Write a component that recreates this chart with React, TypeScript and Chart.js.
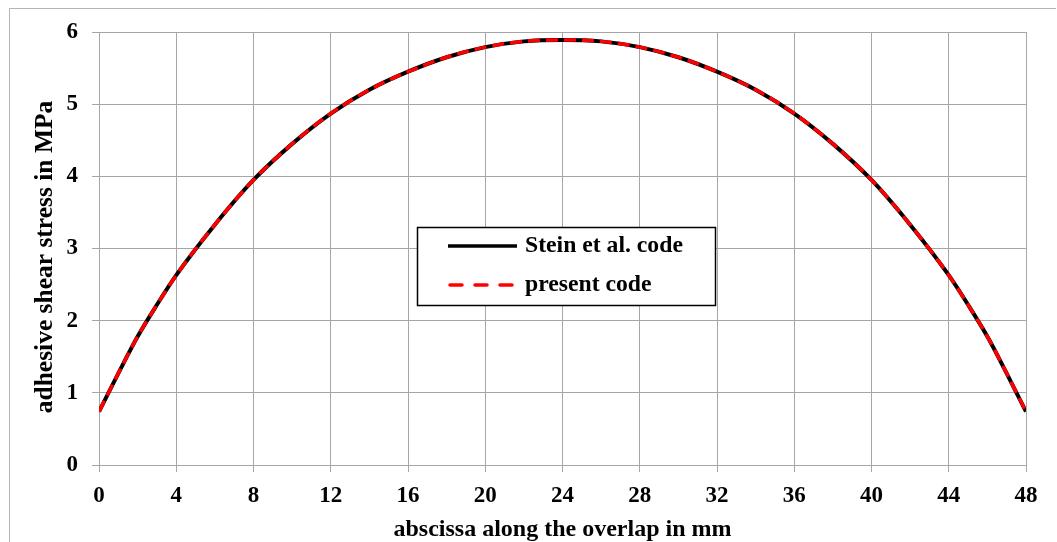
import React, { useEffect, useRef } from "react";
import { Chart, registerables } from "chart.js";

Chart.register(...registerables);

const xValues = [0, 1, 2, 3, 4, 6, 8, 10, 12, 14, 16, 18, 20, 22, 24, 26, 28, 30, 32, 34, 36, 38, 40, 42, 44, 45, 46, 47, 48];
const steinValues = [0.74, 1.27, 1.78, 2.22, 2.63, 3.33, 3.95, 4.45, 4.87, 5.2, 5.45, 5.65, 5.79, 5.87, 5.89, 5.87, 5.79, 5.65, 5.45, 5.2, 4.87, 4.45, 3.95, 3.33, 2.63, 2.22, 1.78, 1.27, 0.74];
const presentValues = [0.74, 1.27, 1.78, 2.22, 2.63, 3.33, 3.95, 4.45, 4.87, 5.2, 5.45, 5.65, 5.79, 5.87, 5.89, 5.87, 5.79, 5.65, 5.45, 5.2, 4.87, 4.45, 3.95, 3.33, 2.63, 2.22, 1.78, 1.27, 0.74];
const seriesLabels = ["Stein et al. code", "present code"];
const xTitle = "abscissa along the overlap in mm";
const yTitle = "adhesive shear stress in MPa";

const FONT = "'Liberation Serif', 'Times New Roman', serif";
const GRID = "#a6a6a6";

const framePlugin = {
  id: "frame",
  beforeDraw(chart: any) {
    const ctx = chart.ctx;
    ctx.save();
    ctx.fillStyle = "#ffffff";
    ctx.fillRect(0, 0, chart.width, chart.height);
    ctx.strokeStyle = "#b4b4b4";
    ctx.lineWidth = 1;
    ctx.beginPath();
    ctx.moveTo(9.5, chart.height);
    ctx.lineTo(9.5, 8.5);
    ctx.lineTo(1056, 8.5);
    ctx.stroke();
    ctx.restore();
  },
};

const yTitlePlugin = {
  id: "yTitle",
  afterDraw(chart: any) {
    const ctx = chart.ctx;
    ctx.save();
    ctx.translate(45, 257);
    ctx.rotate(-Math.PI / 2);
    ctx.fillStyle = "#000000";
    ctx.font = `bold 25.5px ${FONT}`;
    ctx.textAlign = "center";
    ctx.textBaseline = "middle";
    ctx.fillText(yTitle, 0, 0);
    ctx.restore();
  },
};

const legendPlugin = {
  id: "boxLegend",
  afterDraw(chart: any) {
    const ctx = chart.ctx;
    const ds = chart.data.datasets;
    const bx = 417, by = 227, bw = 298, bh = 78;
    ctx.save();
    ctx.fillStyle = "#ffffff";
    ctx.fillRect(bx, by, bw, bh);
    ctx.strokeStyle = "#000000";
    ctx.lineWidth = 1.5;
    ctx.strokeRect(bx + 0.5, by + 0.5, bw, bh);
    const rows = [246, 285];
    ds.forEach((d: any, i: number) => {
      const y = rows[i];
      ctx.beginPath();
      ctx.strokeStyle = d.borderColor;
      ctx.lineWidth = 3.5;
      ctx.lineCap = i === 0 ? "butt" : "round";
      ctx.setLineDash(i === 0 ? [] : [12, 13]);
      ctx.moveTo(i === 0 ? 448 : 450, y);
      ctx.lineTo(517, y);
      ctx.stroke();
      ctx.setLineDash([]);
      ctx.fillStyle = "#000000";
      ctx.font = `bold 23.7px ${FONT}`;
      ctx.textBaseline = "middle";
      ctx.textAlign = "left";
      ctx.fillText(d.label, 525, y);
    });
    ctx.restore();
  },
};

export default function App() {
  const ref = useRef<HTMLCanvasElement | null>(null);

  useEffect(() => {
    if (!ref.current) return;
    const chart = new Chart(ref.current, {
      type: "line",
      data: {
        datasets: [
          {
            label: seriesLabels[0],
            data: xValues.map((x, i) => ({ x, y: steinValues[i] })),
            borderColor: "#000000",
            borderWidth: 4,
            pointRadius: 0,
            cubicInterpolationMode: "monotone",
            order: 1,
          },
          {
            label: seriesLabels[1],
            data: xValues.map((x, i) => ({ x, y: presentValues[i] })),
            borderColor: "#ff0000",
            borderWidth: 3.5,
            borderDash: [12, 6],
            pointRadius: 0,
            cubicInterpolationMode: "monotone",
            order: 0,
          },
        ],
      },
      options: {
        responsive: false,
        animation: false,
        layout: { padding: { left: 33, top: 32, right: 31, bottom: 0 } },
        plugins: {
          legend: { display: false },
          tooltip: { enabled: false },
        },
        scales: {
          x: {
            type: "linear",
            min: 0,
            max: 48,
            afterFit: (s: any) => { s.height = 77; },
            ticks: {
              stepSize: 4,
              padding: 10,
              color: "#000000",
              font: { family: FONT, size: 23, weight: "bold" },
              maxRotation: 0,
            },
            grid: { color: GRID, tickLength: 7, tickColor: GRID },
            border: { color: GRID },
            title: {
              display: true,
              text: xTitle,
              color: "#000000",
              font: { family: FONT, size: 24, weight: "bold", lineHeight: 1 },
              padding: { top: 0, bottom: 0 },
            },
          },
          y: {
            min: 0,
            max: 6,
            afterFit: (s: any) => { s.width = 66; },
            ticks: {
              stepSize: 1,
              padding: 14,
              color: "#000000",
              font: { family: FONT, size: 23, weight: "bold" },
            },
            grid: { color: GRID, tickLength: 7, tickColor: GRID },
            border: { color: GRID },
            title: { display: false },
          },
        },
      },
      plugins: [framePlugin, legendPlugin, yTitlePlugin],
    });
    return () => chart.destroy();
  }, []);

  return (
    <div style={{ position: "absolute", left: 0, top: 0, width: 1057, height: 542 }}>
      <canvas ref={ref} width={1057} height={542} style={{ width: 1057, height: 542, display: "block" }} />
    </div>
  );
}
